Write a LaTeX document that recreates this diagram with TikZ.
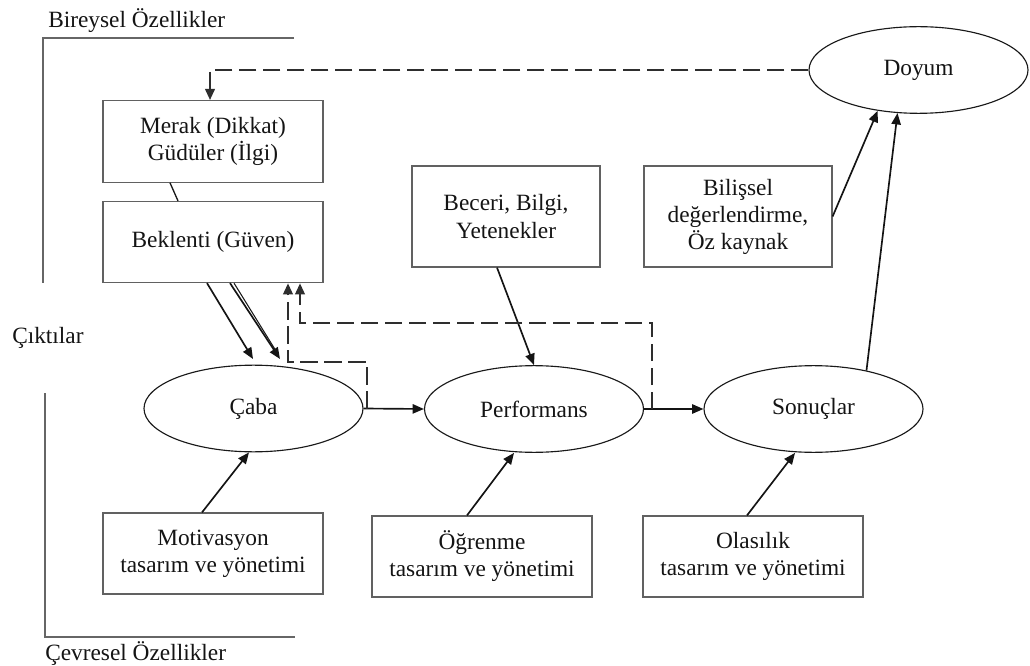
\documentclass[tikz,border=0pt]{standalone}
\usepackage{fontspec}
\setmainfont{Liberation Serif}
\usetikzlibrary{arrows.meta,shapes.geometric}

\begin{document}
\begin{tikzpicture}[x=0.75pt,y=-0.75pt,
  every node/.style={font=\fontsize{17.5}{20.3}\selectfont, text=black!92},
  box/.style={draw=black!62, line width=0.9pt, rectangle, align=center, inner sep=0pt,
    minimum width=165pt, minimum height=60.75pt},
  tallbox/.style={box, minimum width=141pt, minimum height=75.75pt},
  oval/.style={draw=black!90, line width=0.85pt, ellipse, inner sep=0pt,
    minimum width=164.25pt, minimum height=65pt},
  arr/.style={-{Triangle[length=8.5pt,width=7pt]}, line width=1.25pt, draw=black!92},
  fb/.style={draw=black!82, line width=2.1pt, dash pattern=on 13pt off 5pt,
    -{Triangle[length=8.5pt,width=7pt]}},
  bracket/.style={draw=black!60, line width=0.85pt}
]
\useasboundingbox (0,0) rectangle (1030,666);

% side brackets and their captions
\node[anchor=base west, inner sep=0pt] (bir) at (48,28) {Bireysel Özellikler};
\node[anchor=base west, inner sep=0pt] (cev) at (45,660) {Çevresel Özellikler};
\node[anchor=base west, inner sep=0pt] (cik) at (12,343) {Çıktılar};
\draw[bracket] (294,38) -- (43,38) -- (43,283);
\draw[bracket] (45,393) -- (45,637) -- (295,637);

% boxes
\node[box, minimum height=61pt] (merak) at (213,141.5) {Merak (Dikkat)\\Güdüler (İlgi)};
\node[box] (bek) at (213,242) {Beklenti (Güven)};
\node[tallbox] (bec) at (506,216.5) {Beceri, Bilgi,\\ Yetenekler};
\node[tallbox] (bil) at (738,216.5) {Bilişsel\\değerlendirme,\\Öz kaynak};
\node[box] (mot) at (213,553.5) {Motivasyon\\tasarım ve yönetimi};
\node[box] (ogr) at (482,556.5) {Öğrenme\\tasarım ve yönetimi};
\node[box] (ola) at (753,556.5) {Olasılık\\tasarım ve yönetimi};

% ellipses
\node[oval] (caba) at (253.5,408.5) {Çaba};
\node[oval] (perf) at (534,409) {Performans};
\node[oval] (son) at (813.5,409) {Sonuçlar};
\node[oval] (doy) at (918.5,70) {Doyum};

% helper points
\coordinate (t1) at (253,359);
\coordinate (t2) at (280,359);
\coordinate (j1) at (367,408.5);
\coordinate (j2) at (652,409);

% solid links
\draw[line width=1pt, black!90] (merak.south -| 170,0) -- (bek.north -| 178,0);
\draw[arr] (bek.south -| 207,0) -- (t1);
\draw[arr] (bek.south -| 230,0) -- (t2);
\draw[line width=0.8pt, black!90] (bek.south -| 234,0) -- (276,351);
\draw[arr] (caba.east) -- (perf.west);
\draw[arr] (perf.east) -- (son.west);
\draw[arr] (bec.south -| 497,0) -- (perf.north);
\draw[arr] (bil.east) -- (doy.225);
\draw[arr] (son.36) -- (doy.244);
\draw[arr] (mot.north -| 202,0) -- (caba.south -| 249,0);
\draw[arr] (ogr.north -| 467,0) -- (perf.south -| 514,0);
\draw[arr] (ola.north -| 747,0) -- (son.south -| 795,0);

% dashed feedback loops
\draw[fb] (j1) -- (367,362) -- (288,362) -- (bek.south -| 288,0);
\draw[fb] (j2) -- (652,323) -- (300,323) -- (bek.south -| 300,0);
\draw[fb] (doy.west) -| (merak.north -| 210,0);
\end{tikzpicture}
\end{document}
